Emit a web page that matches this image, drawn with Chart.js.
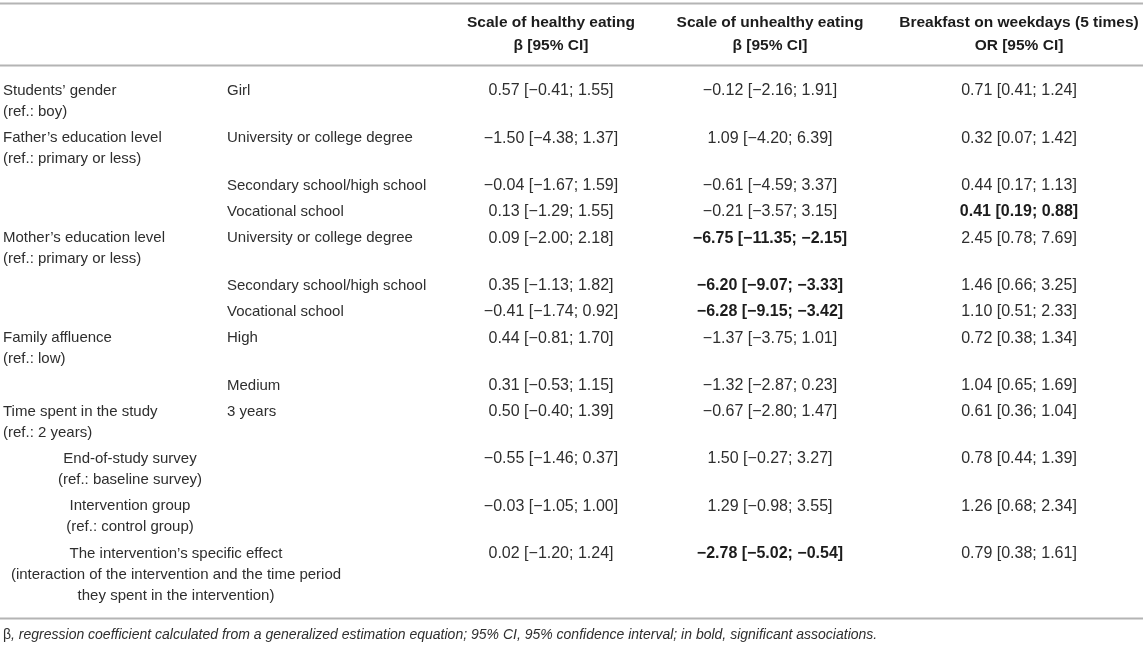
<!DOCTYPE html>
<html>
<head>
<meta charset="utf-8">
<script src="https://cdn.jsdelivr.net/npm/chart.js@4.4.0/dist/chart.umd.min.js"></script>
<style>
html, body { margin: 0; padding: 0; background: #fff; }
#wrap { width: 1143px; height: 645px; position: relative; }
</style>
</head>
<body>
<div id="wrap"><canvas id="gee-table"></canvas></div>
<script>
// ---- table data ----
var groupLabels = [
    ["Students\u2019 gender", "(ref.: boy)"],
    ["Father\u2019s education level", "(ref.: primary or less)"],
    [],
    [],
    ["Mother\u2019s education level", "(ref.: primary or less)"],
    [],
    [],
    ["Family affluence", "(ref.: low)"],
    [],
    ["Time spent in the study", "(ref.: 2 years)"],
    ["End-of-study survey", "(ref.: baseline survey)"],
    ["Intervention group", "(ref.: control group)"],
    ["The intervention\u2019s specific effect", "(interaction of the intervention and the time period", "they spent in the intervention)"]
];
var levelLabels = ["Girl", "University or college degree", "Secondary school/high school", "Vocational school",
    "University or college degree", "Secondary school/high school", "Vocational school",
    "High", "Medium", "3 years", "", "", ""];

// [estimate, lower, upper]
var healthyEating = [[0.57, -0.41, 1.55], [-1.50, -4.38, 1.37], [-0.04, -1.67, 1.59], [0.13, -1.29, 1.55],
    [0.09, -2.00, 2.18], [0.35, -1.13, 1.82], [-0.41, -1.74, 0.92], [0.44, -0.81, 1.70], [0.31, -0.53, 1.15],
    [0.50, -0.40, 1.39], [-0.55, -1.46, 0.37], [-0.03, -1.05, 1.00], [0.02, -1.20, 1.24]];
var unhealthyEating = [[-0.12, -2.16, 1.91], [1.09, -4.20, 6.39], [-0.61, -4.59, 3.37], [-0.21, -3.57, 3.15],
    [-6.75, -11.35, -2.15], [-6.20, -9.07, -3.33], [-6.28, -9.15, -3.42], [-1.37, -3.75, 1.01], [-1.32, -2.87, 0.23],
    [-0.67, -2.80, 1.47], [1.50, -0.27, 3.27], [1.29, -0.98, 3.55], [-2.78, -5.02, -0.54]];
var breakfastOR = [[0.71, 0.41, 1.24], [0.32, 0.07, 1.42], [0.44, 0.17, 1.13], [0.41, 0.19, 0.88],
    [2.45, 0.78, 7.69], [1.46, 0.66, 3.25], [1.10, 0.51, 2.33], [0.72, 0.38, 1.34], [1.04, 0.65, 1.69],
    [0.61, 0.36, 1.04], [0.78, 0.44, 1.39], [1.26, 0.68, 2.34], [0.79, 0.38, 1.61]];

var columnHeaders = [
    ["Scale of healthy eating", "\u03b2 [95% CI]"],
    ["Scale of unhealthy eating", "\u03b2 [95% CI]"],
    ["Breakfast on weekdays (5 times)", "OR [95% CI]"]
];
var noEffect = [0, 0, 1]; // beta -> 0, odds ratio -> 1
var footPrefix = "\u03b2";
var footText = ", regression coefficient calculated from a generalized estimation equation; 95% CI, 95% confidence interval; in bold, significant associations.";

// ---- layout ----
var W = 1143, H = 645;
var labelX = 3, levelX = 227;
var valueColX = [551, 770, 1019];
var labelCenterX = [null, null, null, null, null, null, null, null, null, null, 130, 130, 176];
var headerY = 22.5, headerLH = 23.5;
var bodyY = 91, rowH = 26.3, lineH = 21;
var rulesY = [3.5, 65.5, 618.5];
var footY = 635.5;
var FONT = "'Liberation Sans', Arial, Helvetica, sans-serif";

function fmt(v) {
    return (v < 0 ? "\u2212" : "") + Math.abs(v).toFixed(2);
}

var rowY = [];
var yy = bodyY;
groupLabels.forEach(function (g) {
    rowY.push(yy);
    yy += rowH + (Math.max(1, g.length) - 1) * lineH;
});

var datasets = [];

rulesY.forEach(function (r) {
    datasets.push({
        type: 'line',
        data: [{x: 0, y: r}, {x: W, y: r}],
        borderColor: '#b4b4b4',
        borderWidth: 2,
        pointRadius: 0
    });
});

// header cells
datasets.push({
    isText: true,
    data: columnHeaders.map(function (h, c) {
        return {x: valueColX[c], y: headerY, lines: h, lh: headerLH, align: 'center', bold: true, size: 15.5};
    })
});

// first column
var firstCol = [];
groupLabels.forEach(function (g, i) {
    if (!g.length) return;
    var centered = labelCenterX[i] !== null;
    firstCol.push({x: centered ? labelCenterX[i] : labelX, y: rowY[i], lines: g, lh: lineH,
        align: centered ? 'center' : 'left', size: 15});
});
datasets.push({isText: true, data: firstCol});

// second column
var secondCol = [];
levelLabels.forEach(function (l, i) {
    if (l) secondCol.push({x: levelX, y: rowY[i], lines: [l], lh: lineH, align: 'left', size: 15});
});
datasets.push({isText: true, data: secondCol});

// value columns, bold when the CI excludes the no-effect value
[healthyEating, unhealthyEating, breakfastOR].forEach(function (series, c) {
    datasets.push({
        isText: true,
        data: series.map(function (v, i) {
            var sig = v[1] > noEffect[c] || v[2] < noEffect[c];
            return {x: valueColX[c], y: rowY[i], lines: [fmt(v[0]) + " [" + fmt(v[1]) + "; " + fmt(v[2]) + "]"],
                lh: lineH, align: 'center', bold: sig, size: 16};
        })
    });
});

// footnote
datasets.push({
    isText: true,
    data: [{x: labelX, y: footY, lines: [footText], prefix: footPrefix, lh: lineH, align: 'left', italic: true, size: 14}]
});

var cellText = {
    id: 'cellText',
    afterDatasetsDraw: function (chart) {
        var ctx = chart.ctx;
        var ys = chart.scales.y;
        chart.data.datasets.forEach(function (ds, d) {
            if (!ds.isText) return;
            var meta = chart.getDatasetMeta(d);
            meta.data.forEach(function (pt, i) {
                var cell = ds.data[i];
                ctx.save();
                ctx.textBaseline = 'middle';
                ctx.textAlign = cell.align;
                ctx.fillStyle = cell.bold ? '#1c1c1c' : '#2e2e2e';
                var x = pt.x;
                if (cell.prefix) {
                    ctx.font = cell.size + 'px ' + FONT;
                    ctx.fillText(cell.prefix, x, pt.y);
                    x += ctx.measureText(cell.prefix).width;
                }
                ctx.font = (cell.italic ? 'italic ' : '') + (cell.bold ? 'bold ' : '') + cell.size + 'px ' + FONT;
                cell.lines.forEach(function (t, k) {
                    var py = ys.getPixelForValue(cell.y + k * cell.lh);
                    ctx.fillText(t, x, py);
                });
                ctx.restore();
            });
        });
    }
};

datasets.forEach(function (ds) {
    if (ds.isText) {
        ds.type = 'scatter';
        ds.pointRadius = 0;
        ds.pointHoverRadius = 0;
    }
});

new Chart(document.getElementById('gee-table'), {
    type: 'scatter',
    data: {datasets: datasets},
    options: {
        responsive: true,
        maintainAspectRatio: false,
        animation: false,
        events: [],
        layout: {padding: 0},
        plugins: {legend: {display: false}, tooltip: {enabled: false}},
        scales: {
            x: {type: 'linear', min: 0, max: W, display: false},
            y: {type: 'linear', min: 0, max: H, reverse: true, display: false}
        }
    },
    plugins: [cellText]
});
</script>
</body>
</html>
